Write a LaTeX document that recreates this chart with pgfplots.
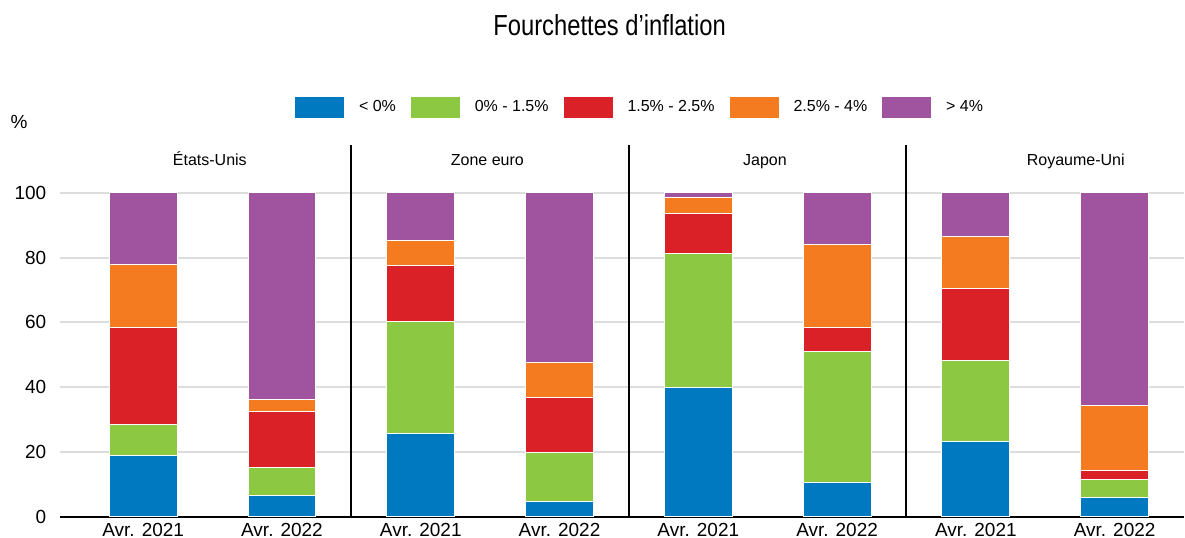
\documentclass[border=0pt]{standalone}
\usepackage{fontspec}
\setmainfont{Liberation Sans}
\newfontfamily\narrowfont[FakeStretch=0.82]{Liberation Sans}
\usepackage{pgfplots}
\pgfplotsset{compat=1.18}
\usepackage{pgfplotstable}

\definecolor{cblue}  {HTML}{0079C1}
\definecolor{cgreen} {HTML}{8DC843}
\definecolor{cred}   {HTML}{DA2128}
\definecolor{corange}{HTML}{F47B20}
\definecolor{cpurple}{HTML}{A054A0}
\definecolor{cgrid}  {HTML}{DDDDDD}

% share of items in each inflation band, per country and date
\pgfplotstableread{
x  neg   low   mid   high  top
0  18.9  9.5   30.0  19.4  22.2
1  6.5   8.8   17.2  3.7   63.8
2  25.8  34.4  17.4  7.6   14.8
3  4.6   15.3  16.8  10.8  52.5
4  39.8  41.5  12.3  5.0   1.4
5  10.6  40.3  7.5   25.6  16.0
6  23.2  25.1  22.1  16.2  13.4
7  5.8   5.7   2.8   20.1  65.6
}\ranges

\begin{document}
\begin{tikzpicture}
\begin{axis}[
  scale only axis, width=562.5pt, height=186pt,
  xmin=-0.6, xmax=7.5, ymin=0, ymax=114.8,
  ybar stacked, bar width=34pt,
  separate axis lines,
  axis x line*=bottom, axis y line*=left,
  y axis line style={draw=none},
  x axis line style={black, line width=1pt, -},
  ytick={0,20,...,100},
  ymajorgrids, grid style={cgrid, line width=1pt},
  major tick length=0pt,
  xtick={0,...,7},
  xticklabels={Avr. 2021,Avr. 2022,Avr. 2021,Avr. 2022,Avr. 2021,Avr. 2022,Avr. 2021,Avr. 2022},
  tick label style={font=\fontsize{9.5}{11}\selectfont},
  /pgf/number format/assume math mode=true,
  yticklabel style={xshift=-3.3pt},
  xticklabel style={inner sep=0pt, yshift=-3pt},
  legend style={at={(rel axis cs:0.517,1.100)}, anchor=center, draw=none,
    font=\fontsize{8}{10}\selectfont,
    /tikz/every odd column/.append style={column sep=5.5pt},
    /tikz/every even column/.append style={column sep=5.5pt}},
  legend columns=-1,
  legend image code/.code={\path[#1, draw=none] (0pt,-5.25pt) rectangle (24.5pt,5.25pt);},
  clip=false,
]
  \addplot[fill=cblue,   draw=white, line width=0.5pt] table[x=x, y=neg]  {\ranges};
  \addplot[fill=cgreen,  draw=white, line width=0.5pt] table[x=x, y=low]  {\ranges};
  \addplot[fill=cred,    draw=white, line width=0.5pt] table[x=x, y=mid]  {\ranges};
  \addplot[fill=corange, draw=white, line width=0.5pt] table[x=x, y=high] {\ranges};
  \addplot[fill=cpurple, draw=white, line width=0.5pt] table[x=x, y=top]  {\ranges};
  \legend{< 0\%, 0\% - 1.5\%, 1.5\% - 2.5\%, 2.5\% - 4\%, > 4\%}

  % panel separators
  \draw[black, line width=1pt] (axis cs:1.5,0) -- (axis cs:1.5,114.8);
  \draw[black, line width=1pt] (axis cs:3.5,0) -- (axis cs:3.5,114.8);
  \draw[black, line width=1pt] (axis cs:5.5,0) -- (axis cs:5.5,114.8);

  \node[font=\fontsize{8}{10}\selectfont, anchor=base] at (axis cs:0.48,108.3) {États-Unis};
  \node[font=\fontsize{8}{10}\selectfont, anchor=base] at (axis cs:2.48,108.3) {Zone euro};
  \node[font=\fontsize{8}{10}\selectfont, anchor=base] at (axis cs:4.48,108.3) {Japon};
  \node[font=\fontsize{8}{10}\selectfont, anchor=base] at (axis cs:6.72,108.3) {Royaume-Uni};

  \node[font=\fontsize{9.5}{11}\selectfont] at ([xshift=-20.5pt, yshift=11.5pt]rel axis cs:0,1) {\%};
  \node[font=\narrowfont\fontsize{14.5}{17}\selectfont] at ([yshift=60pt]rel axis cs:0.489,1) {Fourchettes d’inflation};
\end{axis}
\path ([xshift=-30pt, yshift=-10.5pt]current axis.south west)
  rectangle ([yshift=72.5pt]current axis.north east);
\end{tikzpicture}
\end{document}
